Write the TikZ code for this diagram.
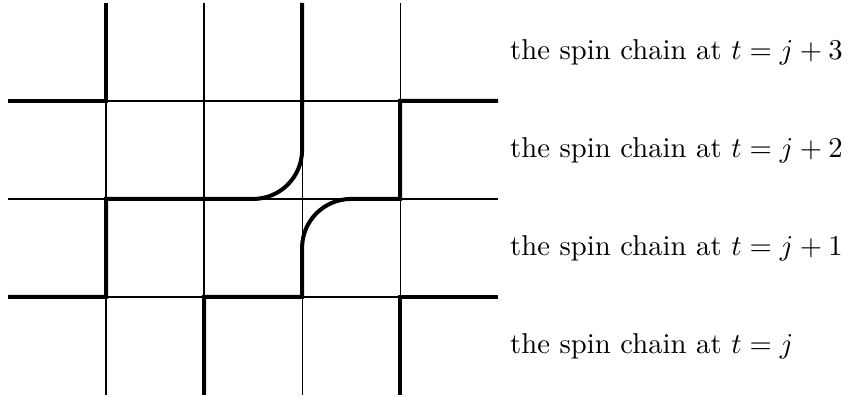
\documentclass[tikz,border=0pt]{standalone}
\usepackage{tikz}
\usetikzlibrary{positioning}

\begin{document}
\begin{tikzpicture}[
    x=1.2cm, y=1.2cm,
    gridline/.style={line width=0.4pt},
    chain/.style={line width=1.4pt},
    label/.style={anchor=west},
]
\useasboundingbox (-0.082,-0.02) rectangle (8.58,4.03);
% lattice
\foreach \y in {1,2,3} \draw[gridline] (0,\y) -- (5,\y);
\foreach \x in {1,2,3,4} \draw[gridline] (\x,0) -- (\x,4);
% spin chains
\draw[chain] (0,3) -- (1,3) -- (1,4);
\draw[chain] (3,4) -- (3,2.5) arc[start angle=0, end angle=-90, radius=0.6cm] -- (1,2) -- (1,1) -- (0,1);
\draw[chain] (5,3) -- (4,3) -- (4,2) -- (3.5,2) arc[start angle=90, end angle=180, radius=0.6cm] -- (3,1) -- (2,1) -- (2,0);
\draw[chain] (4,0) -- (4,1) -- (5,1);
% labels
\node[label] (chain3) at (5.02,3.5) {the spin chain at $t=j+3$};
\node[label] (chain2) at (5.02,2.5) {the spin chain at $t=j+2$};
\node[label] (chain1) at (5.02,1.5) {the spin chain at $t=j+1$};
\node[label] (chain0) at (5.02,0.5) {the spin chain at $t=j$};
\end{tikzpicture}
\end{document}
